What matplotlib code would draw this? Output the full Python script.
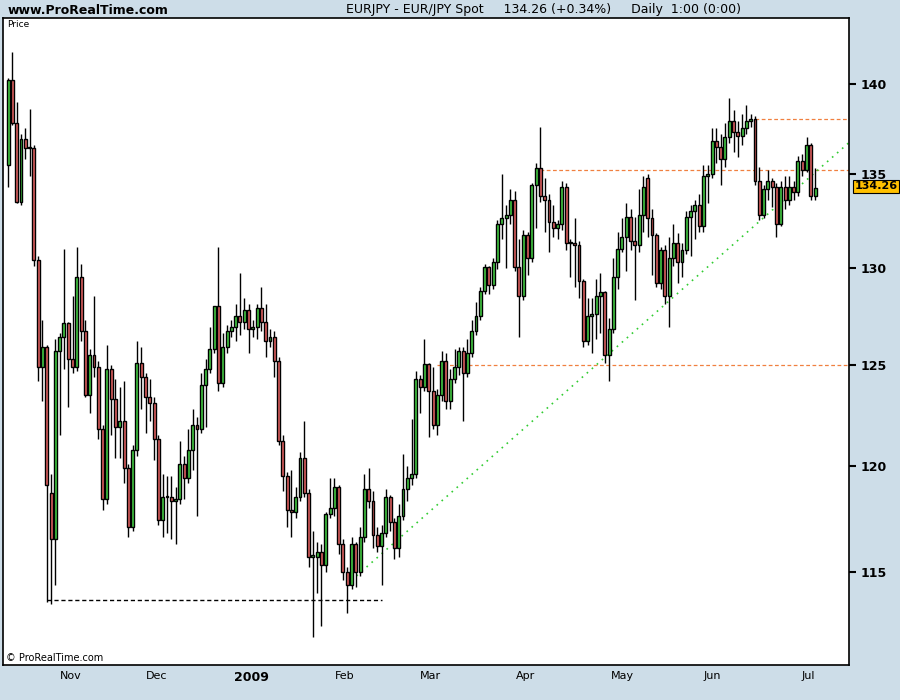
import numpy as np
import matplotlib.pyplot as plt
from matplotlib.ticker import FixedLocator, NullLocator

# daily EUR/JPY candles, mid Oct 2008 .. early Jul 2009
opens = [135.5, 140.2, 137.8, 133.5, 136.9, 136.4, 136.4, 130.4, 124.9, 125.9,
         118.7, 116.5, 125.7, 126.4, 127.1, 125.3, 124.9, 129.5, 126.7, 123.5,
         125.5, 124.9, 121.8, 118.4, 124.8, 123.3, 121.9, 122.2, 119.9, 117.1,
         120.8, 125.1, 124.4, 123.4, 123.1, 121.3, 117.4, 118.5, 118.5, 118.3,
         118.4, 120.1, 119.4, 120.8, 122.0, 121.8, 124.0, 124.8, 125.8, 128.0,
         124.1, 125.9, 126.7, 126.9, 127.5, 127.2, 127.8, 126.8, 126.9, 127.9,
         127.2, 126.2, 126.4, 125.2, 121.2, 119.5, 117.9, 117.8, 118.5, 120.4,
         118.7, 115.7, 115.7, 115.9, 115.3, 117.7, 118.0, 119.0, 116.3, 115.0,
         114.4, 116.3, 115.0, 116.6, 118.9, 118.3, 116.7, 116.2, 116.8, 118.5,
         117.3, 116.1, 117.6, 118.9, 119.4, 119.6, 124.3, 123.9, 125.05, 123.7,
         122.0, 123.5, 125.2, 123.2, 124.3, 124.9, 125.7, 124.6, 125.6, 126.7,
         127.5, 128.8, 130.05, 129.1, 130.3, 132.3, 132.6, 132.8, 133.6, 130.05,
         128.5, 131.7, 130.5, 134.4, 135.3, 133.8, 133.6, 132.4, 132.1, 132.3,
         134.3, 131.3, 131.3, 131.2, 129.3, 126.2, 127.5, 127.6, 128.5, 128.7,
         125.5, 126.8, 129.5, 131.0, 131.6, 132.7, 131.4, 131.2, 132.8, 134.8,
         132.6, 131.7, 129.2, 130.9, 128.5, 130.5, 131.3, 130.3, 130.9, 132.7,
         133.0, 133.3, 132.2, 134.9, 135.0, 136.8, 136.5, 135.8, 137.0, 137.9,
         137.3, 137.1, 137.5, 137.9, 138.0, 134.6, 132.8, 134.2, 134.6, 134.3,
         132.3, 134.3, 133.6, 134.3, 134.0, 135.7, 135.2, 136.6, 133.8]
closes = [140.2, 137.8, 133.5, 136.9, 136.4, 136.4, 130.4, 124.9, 125.9, 119.1,
          116.5, 125.7, 126.4, 127.1, 125.3, 124.9, 129.5, 126.7, 123.5, 125.5,
          124.9, 121.8, 118.4, 124.8, 123.3, 121.9, 122.2, 119.9, 117.1, 120.8,
          125.1, 124.4, 123.4, 123.1, 121.3, 117.4, 118.5, 118.5, 118.3, 118.4,
          120.1, 119.4, 120.8, 122.0, 121.8, 124.0, 124.8, 125.8, 128.0, 124.1,
          125.9, 126.7, 126.9, 127.5, 127.2, 127.8, 126.8, 126.9, 127.9, 127.2,
          126.2, 126.4, 125.2, 121.2, 119.5, 117.9, 117.8, 118.5, 120.4, 118.7,
          115.7, 115.7, 115.9, 115.3, 117.7, 118.0, 119.0, 116.3, 115.0, 114.4,
          116.3, 115.0, 116.6, 118.9, 118.3, 116.7, 116.2, 116.8, 118.5, 117.3,
          116.1, 117.6, 118.9, 119.4, 119.6, 124.3, 123.9, 125.05, 123.7, 122.0,
          123.5, 125.2, 123.2, 124.3, 124.9, 125.7, 124.6, 125.6, 126.7, 127.5,
          128.8, 130.05, 129.1, 130.3, 132.3, 132.6, 132.8, 133.6, 130.05, 128.5,
          131.7, 130.5, 134.4, 135.3, 133.8, 133.6, 132.4, 132.1, 132.3, 134.3,
          131.3, 131.3, 131.2, 129.3, 126.2, 127.5, 127.6, 128.5, 128.7, 125.5,
          126.8, 129.5, 131.0, 131.6, 132.7, 131.4, 131.2, 132.8, 134.3, 132.6,
          131.7, 129.2, 130.9, 128.5, 130.5, 131.3, 130.3, 130.9, 132.7, 133.0,
          133.3, 132.2, 134.9, 135.0, 136.8, 136.5, 135.8, 137.0, 137.9, 137.3,
          137.1, 137.5, 137.9, 138.0, 134.6, 132.8, 134.2, 134.6, 134.3, 132.3,
          134.3, 133.6, 134.3, 134.0, 135.7, 135.2, 136.6, 133.8, 134.26]
highs = [140.3, 141.8, 139.0, 137.2, 137.5, 138.6, 136.6, 130.6, 127.3, 126.0,
         119.6, 126.3, 126.6, 131.0, 127.2, 128.5, 131.1, 130.2, 127.3, 125.8,
         128.5, 125.2, 122.0, 126.0, 125.0, 124.3, 123.9, 124.2, 120.1, 121.0,
         126.2, 125.9, 124.6, 124.3, 123.4, 121.5, 119.6, 119.5, 119.5, 119.0,
         121.2, 120.5, 121.8, 122.8, 122.4, 124.6, 125.3, 126.9, 128.0, 131.1,
         126.6, 127.0, 127.3, 128.1, 129.7, 128.4, 128.1, 127.3, 128.1, 129.0,
         128.1, 126.8, 126.7, 125.4, 121.5, 119.7, 119.8, 119.0, 120.7, 122.2,
         118.9, 116.9, 116.4, 116.3, 117.8, 119.4, 119.4, 119.1, 116.5, 115.2,
         116.6, 116.4, 117.1, 119.6, 119.9, 118.8, 117.1, 117.2, 118.9, 118.6,
         117.5, 118.2, 120.6, 120.0, 122.3, 124.7, 124.5, 126.3, 125.1, 124.9,
         123.8, 125.7, 125.6, 124.8, 125.8, 125.9, 125.9, 126.3, 127.3, 128.2,
         129.0, 130.2, 130.1, 130.5, 132.5, 135.0, 133.3, 134.2, 134.1, 131.5,
         132.0, 131.9, 134.5, 135.6, 137.6, 134.8, 133.9, 133.3, 132.5, 134.6,
         134.5, 131.5, 132.6, 131.4, 129.4, 128.4, 128.4, 129.4, 129.7, 128.8,
         127.4, 130.5, 131.9, 132.6, 133.4, 133.1, 132.7, 134.2, 134.9, 135.0,
         133.1, 131.8, 131.1, 131.2, 131.6, 132.3, 131.8, 131.3, 133.0, 133.3,
         133.6, 133.9, 135.5, 135.5, 137.5, 137.5, 137.2, 137.8, 139.2, 138.5,
         137.9, 138.3, 138.8, 138.3, 138.2, 135.4, 134.4, 135.2, 134.8, 134.5,
         134.6, 134.9, 134.9, 134.6, 136.0, 136.1, 137.0, 136.7, 135.3]
lows = [134.3, 137.7, 133.4, 133.3, 135.8, 134.9, 130.1, 124.2, 123.2, 113.6,
        113.5, 114.4, 121.5, 124.8, 122.9, 124.6, 124.7, 126.2, 123.4, 122.6,
        124.4, 121.3, 117.9, 118.2, 121.5, 120.4, 120.4, 119.2, 116.6, 116.9,
        120.5, 122.8, 121.6, 122.2, 120.3, 117.2, 116.6, 116.8, 116.5, 116.3,
        118.2, 118.4, 119.2, 119.8, 117.6, 121.6, 121.9, 124.6, 125.6, 123.7,
        123.9, 125.6, 126.4, 126.2, 126.5, 126.8, 125.6, 126.4, 126.3, 126.7,
        125.4, 125.9, 124.4, 121.0, 118.8, 117.1, 116.6, 117.5, 118.3, 118.5,
        115.2, 112.0, 114.0, 112.5, 115.0, 117.5, 117.6, 115.8, 114.6, 113.1,
        114.2, 114.3, 114.8, 116.4, 118.0, 116.1, 115.9, 114.4, 116.6, 116.9,
        115.6, 115.7, 117.4, 118.3, 119.1, 119.4, 122.6, 123.7, 121.4, 121.8,
        121.5, 123.2, 122.8, 122.8, 124.1, 124.5, 122.2, 124.4, 125.4, 126.5,
        127.3, 128.6, 128.6, 128.9, 129.9, 131.5, 130.0, 132.3, 129.8, 126.4,
        128.3, 129.6, 130.3, 132.1, 133.5, 131.9, 130.8, 131.6, 131.5, 132.0,
        130.9, 129.5, 129.0, 128.4, 125.9, 126.0, 125.6, 126.3, 126.6, 125.1,
        124.2, 126.6, 128.9, 130.8, 129.8, 130.9, 128.3, 130.8, 131.9, 131.6,
        129.6, 129.0, 128.9, 128.1, 126.9, 130.1, 129.2, 129.5, 130.7, 130.6,
        131.5, 131.9, 131.9, 133.4, 134.8, 135.6, 134.4, 135.4, 136.7, 136.2,
        135.9, 136.6, 137.2, 137.6, 134.4, 132.5, 132.6, 133.6, 133.2, 131.6,
        132.2, 133.1, 133.3, 133.6, 133.8, 134.9, 135.1, 133.6, 133.6]

month_labels = ["Nov", "Dec", "2009", "Feb", "Mar", "Apr", "May", "Jun", "Jul"]
month_pos = [14.5, 34.7, 56.6, 78.5, 98.4, 120.5, 143.1, 164.1, 186.5]
price_ticks = [115, 120, 125, 130, 135, 140]

support_low = 113.7          # black dashed
hlines = [125.0, 135.2, 138.0]   # orange dashed
hline_start = [100, 124, 174]
trend_pts = ([80.0, 196.3], [114.6, 136.8])

bg = "#cddde8"
fig = plt.figure(figsize=(9, 7), dpi=100, facecolor=bg)
ax = fig.add_axes([3/900, 35/700, 846/900, 647/700])
ax.set_facecolor("white")

o = np.array(opens); c = np.array(closes)
h = np.array(highs); l = np.array(lows)
x = np.arange(len(o))
up = c >= o
ax.vlines(x, l, h, color="black", lw=1, zorder=2)
bottoms = np.minimum(o, c)
heights = np.maximum(np.abs(c - o), 0.05)
ax.bar(x, heights, bottom=bottoms, width=0.68,
       color=np.where(up, "#44cc44", "#e06060"), edgecolor="black", lw=1, zorder=3)

ax.plot([9, 87], [support_low, support_low], ls=(0, (3, 2)), color="black", lw=1, zorder=1)
for y, s in zip(hlines, hline_start):
    ax.plot([s, 200], [y, y], ls=(0, (3, 2)), color="#f08040", lw=0.9, zorder=1)
ax.plot(trend_pts[0], trend_pts[1], ls=(0, (1, 3)), color="#33cc33", lw=1.2, zorder=1)

ax.set_yscale("log")
ax.set_ylim(110.75, 143.76)
ax.set_xlim(-1.2, 195.9)
ax.yaxis.tick_right()
ax.yaxis.set_major_locator(FixedLocator(price_ticks))
ax.yaxis.set_minor_locator(NullLocator())
ax.set_yticklabels([str(t) for t in price_ticks], fontsize=9, fontweight="bold")
ax.tick_params(axis="y", direction="out", length=5, width=1.5)
ax.set_xticks(month_pos)
ax.set_xticklabels(month_labels, fontsize=8)
ax.get_xticklabels()[2].set_fontweight("bold")
ax.get_xticklabels()[2].set_fontsize(9)
ax.tick_params(axis="x", length=0, pad=4)
for sp in ax.spines.values():
    sp.set_linewidth(1.2)

ax.text(0.005, 0.997, "Price", transform=ax.transAxes, fontsize=6.5, va="top")
ax.text(0.003, 0.003, "© ProRealTime.com", transform=ax.transAxes, fontsize=7, va="bottom")
ax.annotate("134.26", xy=(1.0, closes[-1]), xycoords=("axes fraction", "data"),
            xytext=(4, 1), textcoords="offset points", fontsize=8, fontweight="bold",
            va="center", ha="left",
            bbox=dict(boxstyle="square,pad=0.15", fc="#ffc000", ec="black", lw=0.8))

fig.text(8/900, 1 - 10/700, "www.ProRealTime.com", fontsize=9, fontweight="bold", va="center")
fig.text(346/900, 1 - 10/700, "EURJPY - EUR/JPY Spot     134.26 (+0.34%)     Daily  1:00 (0:00)",
         fontsize=9, va="center")

fig.savefig("out.png", dpi=100, facecolor=bg)
